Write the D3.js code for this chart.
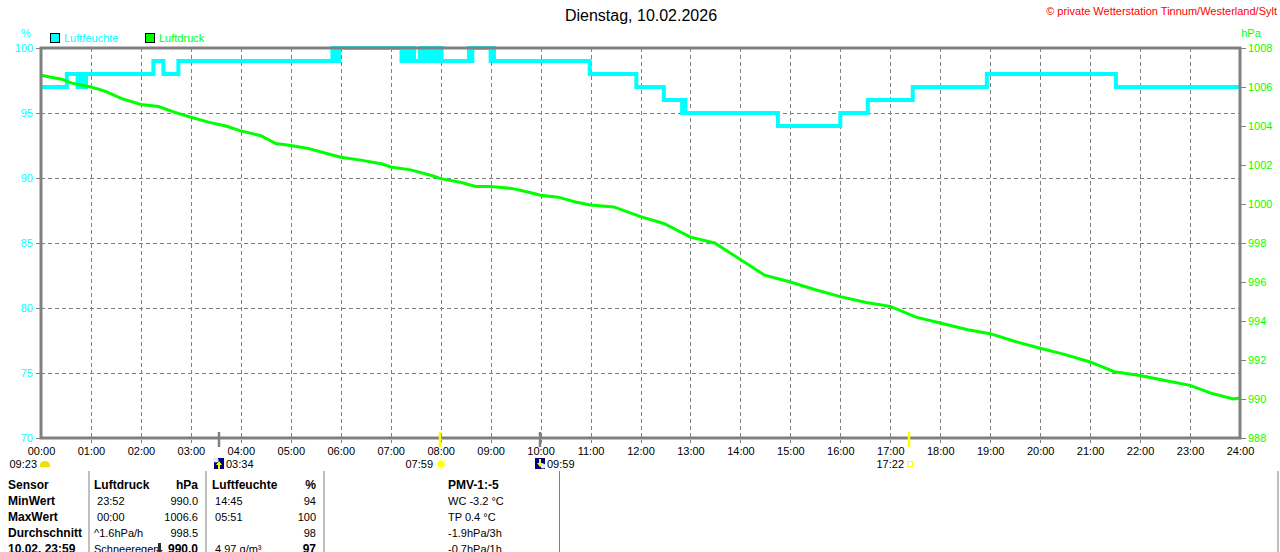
<!DOCTYPE html>
<html><head><meta charset="utf-8">
<script src="https://cdn.jsdelivr.net/npm/d3@7"></script>
<style>
body{margin:0;background:#fff}
svg{display:block;font-family:"Liberation Sans",Arial,sans-serif}
</style></head>
<body><svg id="chart" width="1280" height="552"></svg>
<script>
// ---------- DATA ----------
const chartTitle = "Dienstag, 10.02.2026";
const copyright = "© private Wetterstation Tinnum/Westerland/Sylt";
const hourLabels = d3.range(0, 25).map(h => String(h).padStart(2, "0") + ":00");
const humidityTicks = [70, 75, 80, 85, 90, 95, 100];
const pressureTicks = [988, 990, 992, 994, 996, 998, 1000, 1002, 1004, 1006, 1008];

// Luftfeuchte (%) – change points (step after)
const humidityTimes = ["00:00","00:31","00:44","00:46","00:48","00:50","00:52","00:54","02:15","02:27","02:45",
  "05:50","05:52","05:54","05:56","05:58","07:13","07:15","07:17","07:20","07:23","07:26","07:28",
  "07:35","07:37","07:40","07:43","07:46","07:49","07:52","07:55","07:58","08:01","08:05",
  "08:34","08:36","08:38","09:00","09:02","09:04","09:07","10:59","11:55","12:28","12:50","12:52","12:54","12:57",
  "14:45","16:00","16:33","17:27","18:56","21:31","24:00"];
const humidityValues = [97,98,97,98,97,98,97,98,99,98,99,
  100,99,100,99,100,99,100,99,100,99,100,99,
  100,99,100,99,100,99,100,99,100,99,99,
  100,99,100,99,100,99,99,98,97,96,95,96,95,95,
  94,95,96,97,98,97,97];

// Luftdruck (hPa)
const pressureTimes = ["00:00","00:12","00:25","00:37","01:00","01:16","01:37","02:00","02:21","02:41","03:00","03:21","03:42",
  "04:00","04:24","04:42","05:00","05:21","05:42","06:00","06:24","06:50","07:00","07:24","07:50","08:00","08:25","08:42",
  "09:00","09:25","09:46","10:00","10:21","10:42","11:00","11:28","12:00","12:28","13:00","13:29","14:00","14:29","15:00",
  "15:30","16:00","16:31","17:00","17:31","18:00","18:33","19:00","19:30","20:00","20:28","21:00","21:29","22:00","22:30",
  "23:00","23:25","23:52","24:00"];
const pressureValues = [1006.6,1006.5,1006.4,1006.2,1006.0,1005.8,1005.4,1005.1,1005.0,1004.7,1004.45,1004.2,1004.0,
  1003.75,1003.5,1003.1,1003.0,1002.85,1002.6,1002.4,1002.25,1002.05,1001.9,1001.75,1001.45,1001.3,1001.1,1000.9,
  1000.9,1000.8,1000.6,1000.45,1000.35,1000.1,999.95,999.85,999.35,999.0,998.3,998.0,997.15,996.35,996.0,
  995.6,995.25,994.95,994.75,994.2,993.9,993.55,993.35,992.95,992.6,992.3,991.9,991.4,991.2,990.95,
  990.7,990.3,990.0,990.05];

// Sun / moon events
const eventTimes = ["03:34","07:59","09:59","17:22"];
const eventKinds = ["moonrise","sunrise","moonset","sunset"];
const dayStartLabel = "09:23";

// Table
const tableLabels = ["Sensor","MinWert","MaxWert","Durchschnitt","10.02. 23:59"];
const pressureColumn = [["Luftdruck","hPa"],[" 23:52","990.0"],[" 00:00","1006.6"],["^1.6hPa/h","998.5"],["Schneeregen","990.0"]];
const humidityColumn = [["Luftfeuchte","%"],[" 14:45","94"],[" 05:51","100"],["","98"],[" 4.97 g/m³","97"]];
const extraColumn = ["PMV-1:-5","WC -3.2 °C","TP 0.4 °C","-1.9hPa/3h","-0.7hPa/1h"];

// ---------- CHART ----------
const toMin = s => { const [h, m] = s.split(":").map(Number); return h * 60 + m; };
const CYAN = "#00ffff", GREEN = "#00ff00", GREY = "#808080";
const svg = d3.select("#chart");
const L = 41, R = 1240, T = 48, B = 438;
const x = d3.scaleLinear().domain([0, 1440]).range([L, R]);
const yH = d3.scaleLinear().domain([70, 100]).range([B, T]);
const yP = d3.scaleLinear().domain([988, 1008]).range([B, T]);

// title & copyright
svg.append("text").attr("x", 641).attr("y", 21).attr("text-anchor", "middle")
  .attr("font-size", 16).attr("fill", "#000").text(chartTitle);
svg.append("text").attr("x", 1277).attr("y", 15).attr("text-anchor", "end")
  .attr("font-size", 11).attr("fill", "#ff0000").text(copyright);

// unit labels
svg.append("text").attr("x", 26).attr("y", 37).attr("text-anchor", "middle")
  .attr("font-size", 11).attr("fill", CYAN).text("%");
svg.append("text").attr("x", 1251).attr("y", 37).attr("text-anchor", "middle")
  .attr("font-size", 11).attr("fill", GREEN).text("hPa");

// legend
const legend = [["Luftfeuchte", CYAN, 50], ["Luftdruck", GREEN, 145]];
legend.forEach(([name, col, lx]) => {
  svg.append("rect").attr("x", lx + 0.5).attr("y", 33.5).attr("width", 9).attr("height", 9)
    .attr("fill", col).attr("stroke", "#000");
  svg.append("text").attr("x", lx + 14).attr("y", 42).attr("font-size", 11).attr("fill", col).text(name);
});

// grid
const grid = svg.append("g").attr("stroke", GREY).attr("stroke-width", 1).attr("stroke-dasharray", "4,3");
grid.selectAll("line.v").data(d3.range(1, 24)).join("line")
  .attr("x1", h => Math.round(x(h * 60)) + 0.5).attr("x2", h => Math.round(x(h * 60)) + 0.5)
  .attr("y1", T).attr("y2", B + 5);
grid.selectAll("line.h").data(humidityTicks.slice(1, -1)).join("line")
  .attr("x1", L).attr("x2", R)
  .attr("y1", d => Math.round(yH(d)) + 0.5).attr("y2", d => Math.round(yH(d)) + 0.5);

// lines
const plot = svg.append("g");
plot.append("path")
  .datum(humidityTimes.map((t, i) => [toMin(t), humidityValues[i]]))
  .attr("fill", "none").attr("stroke", CYAN).attr("stroke-width", 4)
  .attr("d", d3.line().x(d => x(d[0])).y(d => yH(d[1])).curve(d3.curveStepAfter));
plot.append("path")
  .datum(pressureTimes.map((t, i) => [toMin(t), pressureValues[i]]))
  .attr("fill", "none").attr("stroke", GREEN).attr("stroke-width", 3)
  .attr("d", d3.line().x(d => x(d[0])).y(d => yP(d[1])));

// frame
svg.append("rect").attr("x", L).attr("y", T).attr("width", R - L).attr("height", B - T)
  .attr("fill", "none").attr("stroke", GREY).attr("stroke-width", 3);

// left axis
const leftAxis = d3.axisLeft(yH).tickValues(humidityTicks).tickSize(4).tickPadding(3);
const la = svg.append("g").attr("transform", `translate(${L - 1},0)`).call(leftAxis);
la.select(".domain").remove();
la.selectAll("line").attr("stroke", GREY);
la.selectAll("text").attr("fill", CYAN).attr("font-size", 11).attr("font-family", "Liberation Sans, Arial, sans-serif");

// right axis
const rightAxis = d3.axisRight(yP).tickValues(pressureTicks).tickFormat(d3.format("d")).tickSize(5).tickPadding(2);
const ra = svg.append("g").attr("transform", `translate(${R + 1},0)`).call(rightAxis);
ra.select(".domain").remove();
ra.selectAll("line").attr("stroke", GREY);
ra.selectAll("text").attr("fill", GREEN).attr("font-size", 11).attr("font-family", "Liberation Sans, Arial, sans-serif");

// bottom axis
const bottomAxis = d3.axisBottom(x).tickValues(d3.range(0, 25).map(h => h * 60))
  .tickFormat((d, i) => hourLabels[i]).tickSize(0).tickPadding(9);
const ba = svg.append("g").attr("transform", `translate(0,${B})`).call(bottomAxis);
ba.select(".domain").remove();
ba.selectAll("text").attr("fill", "#000").attr("font-size", 11).attr("font-family", "Liberation Sans, Arial, sans-serif");

// event markers
const ev = svg.append("g");
eventTimes.forEach((t, i) => {
  const ex = Math.round(x(toMin(t)));
  const kind = eventKinds[i];
  const isSun = kind.startsWith("sun");
  ev.append("line").attr("x1", ex).attr("x2", ex).attr("y1", B - 6).attr("y2", B + 9)
    .attr("stroke", isSun ? "#ffff00" : GREY).attr("stroke-width", 2.5);
  const iy = 464;
  if (kind === "moonrise" || kind === "moonset") {
    ev.append("rect").attr("x", ex - 5).attr("y", iy - 6).attr("width", 10).attr("height", 11).attr("fill", "#000080");
    const blobY = kind === "moonrise" ? iy - 4 : iy + 2;
    const blobX = kind === "moonrise" ? ex - 3 : ex + 3;
    ev.append("circle").attr("cx", blobX).attr("cy", blobY).attr("r", 2.5).attr("fill", "#e8e8ff");
    const up = kind === "moonrise";
    ev.append("path").attr("fill", "#ffff00")
      .attr("d", up ? `M${ex},${iy - 3} L${ex + 3},${iy + 1} L${ex + 1},${iy + 1} L${ex + 1},${iy + 5} L${ex - 1},${iy + 5} L${ex - 1},${iy + 1} L${ex - 3},${iy + 1} Z`
                    : `M${ex},${iy + 3} L${ex + 3},${iy - 1} L${ex + 1},${iy - 1} L${ex + 1},${iy - 5} L${ex - 1},${iy - 5} L${ex - 1},${iy - 1} L${ex - 3},${iy - 1} Z`);
    ev.append("text").attr("x", ex + 7).attr("y", iy + 4).attr("font-size", 11).attr("fill", "#000").text(t);
  } else if (kind === "sunrise") {
    ev.append("circle").attr("cx", ex + 1).attr("cy", iy).attr("r", 3.5).attr("fill", "#ffff00");
    d3.range(8).forEach(k => {
      const a = k * Math.PI / 4;
      ev.append("line").attr("x1", ex + 1 + Math.cos(a) * 4).attr("y1", iy + Math.sin(a) * 4)
        .attr("x2", ex + 1 + Math.cos(a) * 6).attr("y2", iy + Math.sin(a) * 6)
        .attr("stroke", "#ffff60").attr("stroke-width", 1);
    });
    ev.append("text").attr("x", ex - 7).attr("y", iy + 4).attr("text-anchor", "end").attr("font-size", 11).attr("fill", "#000").text(t);
  } else {
    ev.append("rect").attr("x", ex - 1.5).attr("y", iy - 2.5).attr("width", 5).attr("height", 5)
      .attr("fill", "none").attr("stroke", "#ffff00").attr("stroke-width", 1);
    ev.append("text").attr("x", ex - 5).attr("y", iy + 4).attr("text-anchor", "end").attr("font-size", 11).attr("fill", "#000").text(t);
  }
});
// day start label with yellow cloud
svg.append("text").attr("x", x(0) - 4).attr("y", 468).attr("text-anchor", "end")
  .attr("font-size", 11).attr("fill", "#000").text(dayStartLabel);
svg.append("path").attr("fill", "#f0e000")
  .attr("d", `M${x(0) - 1},467 L${x(0) - 1},465 A5,4 0 0 1 ${x(0) + 9},465 L${x(0) + 9},467 Z`);

// ---------- TABLE ----------
const tbl = svg.append("g").attr("font-size", 11).attr("fill", "#000");
[89, 206, 324, 559.5, 1278].forEach(sx => {
  tbl.append("line").attr("x1", sx).attr("x2", sx).attr("y1", 471).attr("y2", 552)
    .attr("stroke", GREY).attr("stroke-width", 1);
});
const rowY = i => 489 + i * 16;
const bsize = 12;
tableLabels.forEach((lab, i) => {
  tbl.append("text").attr("x", 8).attr("y", rowY(i)).attr("font-weight", "bold").attr("font-size", bsize).text(lab);
  const hdr = i === 0, last = i === tableLabels.length - 1;
  tbl.append("text").attr("x", 94).attr("y", rowY(i)).attr("font-weight", hdr ? "bold" : "normal")
    .attr("font-size", hdr ? bsize : 11).style("white-space", "pre").text(pressureColumn[i][0]);
  tbl.append("text").attr("x", 198).attr("y", rowY(i)).attr("text-anchor", "end")
    .attr("font-weight", hdr || last ? "bold" : "normal").attr("font-size", hdr || last ? bsize : 11).text(pressureColumn[i][1]);
  tbl.append("text").attr("x", 212).attr("y", rowY(i)).attr("font-weight", hdr ? "bold" : "normal")
    .attr("font-size", hdr ? bsize : 11).style("white-space", "pre").text(humidityColumn[i][0]);
  tbl.append("text").attr("x", 316).attr("y", rowY(i)).attr("text-anchor", "end")
    .attr("font-weight", hdr || last ? "bold" : "normal").attr("font-size", hdr || last ? bsize : 11).text(humidityColumn[i][1]);
  tbl.append("text").attr("x", 448).attr("y", rowY(i)).attr("font-weight", hdr ? "bold" : "normal")
    .attr("font-size", hdr ? bsize : 11).text(extraColumn[i]);
});
// trend arrow icon in last row
const ay = rowY(4);
tbl.append("path").attr("fill", "#303030")
  .attr("d", `M158,${ay - 10} L161,${ay - 10} L161,${ay - 3} L163,${ay - 3} L159.5,${ay + 1} L156,${ay - 3} L158,${ay - 3} Z`);
</script>
</body></html>
